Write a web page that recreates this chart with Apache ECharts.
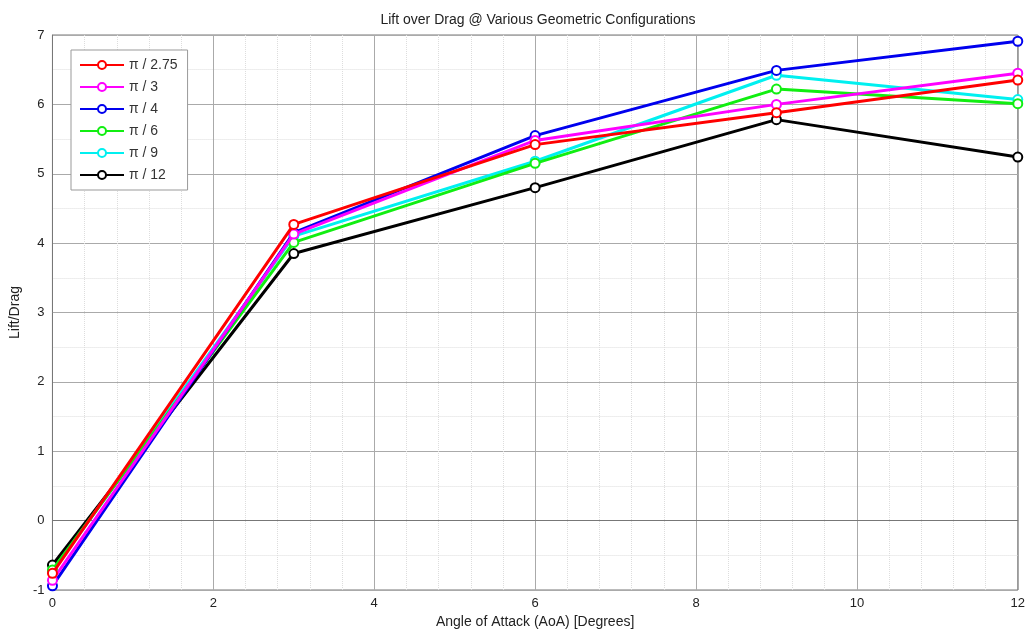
<!DOCTYPE html>
<html>
<head>
<meta charset="utf-8">
<script src="https://cdn.jsdelivr.net/npm/echarts@6/dist/echarts.min.js"></script>
<style>
  html, body { margin: 0; padding: 0; background: #fff; }
  #chart { width: 1028px; height: 636px; }
</style>
</head>
<body>
<div id="chart"></div>
<script>
// Angle of attack samples (degrees)
const aoa = [0, 3, 6, 9, 12];

// Lift/Drag ratio for each geometric configuration
const seriesNames = ['π / 2.75', 'π / 3', 'π / 4', 'π / 6', 'π / 9', 'π / 12'];
const ldPi275 = [-0.76, 4.27, 5.42, 5.88, 6.35];
const ldPi3   = [-0.86, 4.13, 5.48, 6.00, 6.45];
const ldPi4   = [-0.94, 4.15, 5.55, 6.49, 6.91];
const ldPi6   = [-0.71, 4.01, 5.15, 6.22, 6.01];
const ldPi9   = [-0.73, 4.10, 5.18, 6.42, 6.07];
const ldPi12  = [-0.64, 3.85, 4.80, 5.78, 5.24];

const seriesValues = [ldPi275, ldPi3, ldPi4, ldPi6, ldPi9, ldPi12];
const seriesColors = ['#ff0000', '#ff00ff', '#0000ee', '#11ee11', '#00f0f0', '#000000'];

const chart = echarts.init(document.getElementById('chart'));

const series = seriesNames.map((name, i) => ({
  name: name,
  type: 'line',
  data: aoa.map((x, j) => [x, seriesValues[i][j]]),
  symbol: 'emptyCircle',
  symbolSize: 9,
  showAllSymbol: true,
  lineStyle: { width: 3, color: seriesColors[i] },
  itemStyle: { color: seriesColors[i], borderColor: seriesColors[i], borderWidth: 2.4 },
  emphasis: { disabled: true },
  z: 10 + (seriesNames.length - i)
}));

chart.setOption({
  animation: false,
  backgroundColor: '#ffffff',
  textStyle: { fontFamily: 'Liberation Sans, Arial, sans-serif' },
  title: {
    text: 'Lift over Drag @ Various Geometric Configurations',
    left: 533,
    textAlign: 'center',
    top: 8,
    textStyle: { fontSize: 14, fontWeight: 'normal', color: '#222', fontFamily: 'Liberation Sans, Arial, sans-serif' }
  },
  legend: {
    orient: 'vertical',
    left: 71,
    top: 50,
    itemWidth: 44,
    itemHeight: 10,
    itemGap: 8,
    padding: [8, 10, 8, 8],
    borderColor: '#999',
    borderWidth: 1,
    backgroundColor: '#fff',
    textStyle: { fontSize: 14, color: '#333', fontFamily: 'Liberation Sans, Arial, sans-serif' },
    data: seriesNames
  },
  grid: {
    left: 49, right: 10, top: 35, bottom: 46,
    show: true, borderColor: '#777', borderWidth: 1
  },
  xAxis: {
    type: 'value',
    min: 0, max: 12, interval: 2,
    name: 'Angle of Attack (AoA) [Degrees]',
    nameLocation: 'middle',
    nameGap: 22,
    nameTextStyle: { fontSize: 14, color: '#222' },
    axisLine: { lineStyle: { color: '#777' } },
    axisTick: { show: false },
    axisLabel: { fontSize: 13, color: '#222', margin: 7 },
    splitLine: { show: true, lineStyle: { color: '#aaa', width: 1 } },
    minorTick: { show: false, splitNumber: 5 },
    minorSplitLine: { show: true, lineStyle: { color: '#ddd', type: 'dotted', width: 1 } }
  },
  yAxis: {
    type: 'value',
    min: -1, max: 7, interval: 1,
    name: 'Lift/Drag',
    nameLocation: 'middle',
    nameGap: 26,
    nameTextStyle: { fontSize: 14, color: '#222' },
    axisLine: { show: true, lineStyle: { color: '#777' } },
    axisTick: { show: false },
    axisLabel: { fontSize: 13, color: '#222', margin: 8 },
    splitLine: { show: true, lineStyle: { color: '#aaa', width: 1 } },
    minorTick: { show: false, splitNumber: 2 },
    minorSplitLine: { show: true, lineStyle: { color: '#ddd', type: 'dotted', width: 1 } }
  },
  series: series
});
</script>
</body>
</html>
